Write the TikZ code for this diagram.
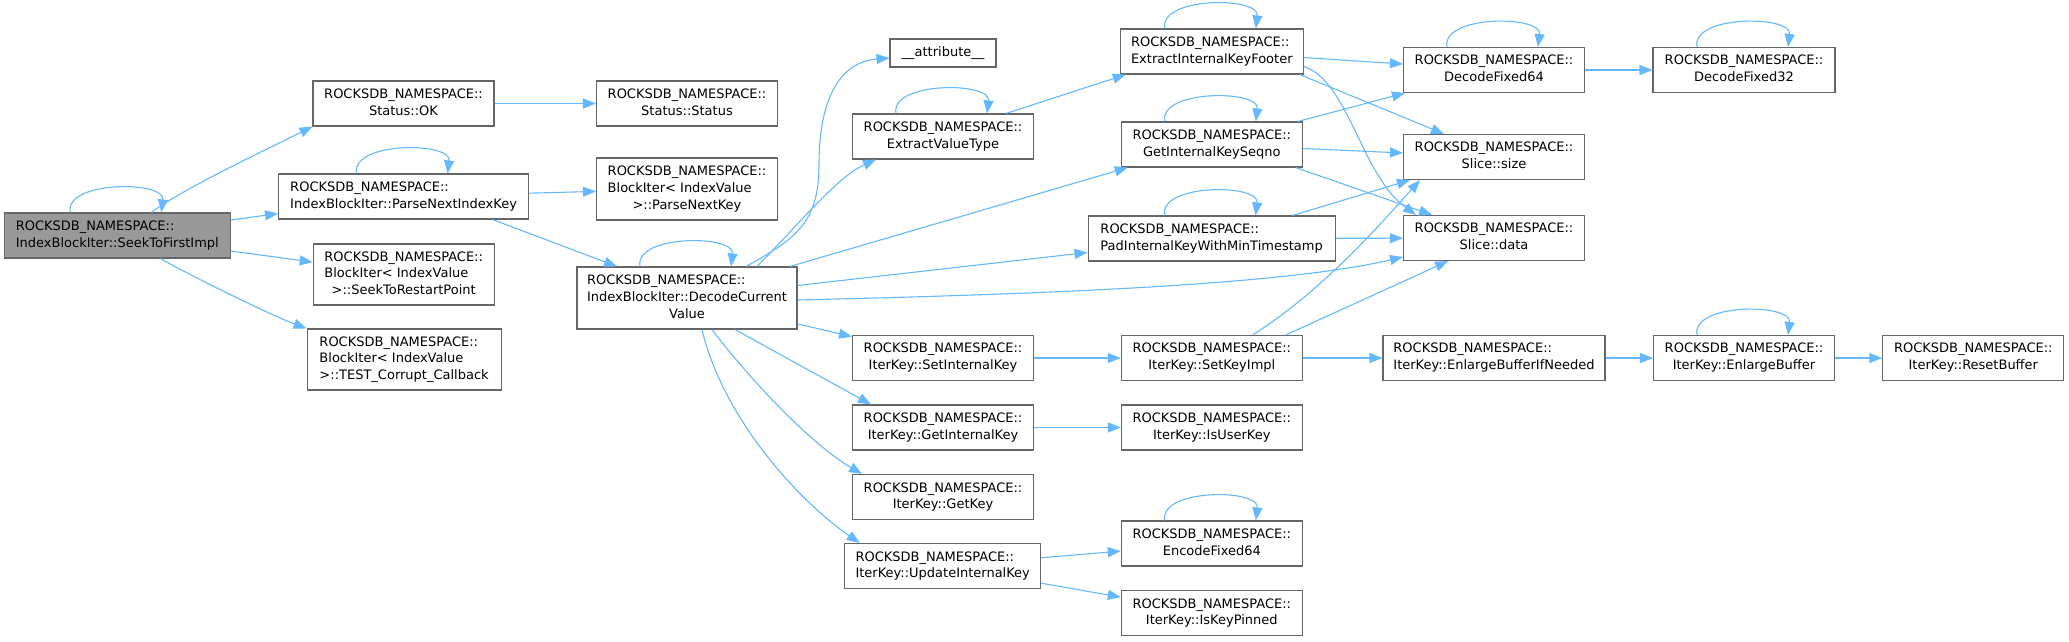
\documentclass[tikz,border=0pt]{standalone}
\usepackage{fontspec}
\setmainfont{DejaVu Sans}
\usetikzlibrary{arrows.meta}
\definecolor{edgeblue}{HTML}{63B8FF}
\definecolor{boxgray}{HTML}{666666}
\definecolor{rootgray}{HTML}{999999}
\newcommand{\ns}{ROCKSDB\_NAMESPACE::}
\newcommand{\fnlabel}[2]{\begin{tabular}{@{}l@{}}#1\\\multicolumn{1}{@{}c@{}}{#2}\end{tabular}}

\begin{document}
\begin{tikzpicture}[x=1pt, y=-1pt, >={Triangle[length=13pt,width=10pt]},
  fn/.style={draw=boxgray, line width=1.1pt, fill=white, inner sep=0pt,
    minimum width=#1, minimum height=45pt, font=\fontsize{13}{16.7}\selectfont},
  fn/.default=181pt,
  edge/.style={->, draw=edgeblue, line width=1.1pt}]
  \useasboundingbox (0,0) rectangle (2069,641);
  % functions
  \node[fn=226pt, fill=rootgray] (seek) at (117.3,235.5) {\fnlabel{\ns}{IndexBlockIter::SeekToFirstImpl}};
  \node[fn] (ok) at (403.5,103.5) {\fnlabel{\ns}{Status::OK}};
  \node[fn=250pt] (parse) at (403.6,196.5) {\fnlabel{\ns}{IndexBlockIter::ParseNextIndexKey}};
  \node[fn, minimum height=61pt] (restart) at (403.7,274.5) {\fnlabel{\ns\\BlockIter< IndexValue}{>::SeekToRestartPoint}};
  \node[fn=194pt, minimum height=61pt] (corrupt) at (404.1,359.5) {\fnlabel{\ns\\BlockIter< IndexValue}{>::TEST\_Corrupt\_Callback}};
  \node[fn] (status) at (687,103.5) {\fnlabel{\ns}{Status::Status}};
  \node[fn, minimum height=62pt] (pnk) at (687,189) {\fnlabel{\ns\\BlockIter< IndexValue}{>::ParseNextKey}};
  \node[fn=220pt, minimum height=62pt] (decode) at (687,298) {\fnlabel{\ns\\IndexBlockIter::DecodeCurrent}{Value}};
  \node[fn=106pt, minimum height=28pt] (attr) at (943,53) {\_\_attribute\_\_};
  \node[fn] (evt) at (943,136.5) {\fnlabel{\ns}{ExtractValueType}};
  \node[fn] (sik) at (943,358) {\fnlabel{\ns}{IterKey::SetInternalKey}};
  \node[fn] (gik) at (943,427.5) {\fnlabel{\ns}{IterKey::GetInternalKey}};
  \node[fn] (gk) at (943,497) {\fnlabel{\ns}{IterKey::GetKey}};
  \node[fn=196pt] (uik) at (942.7,566) {\fnlabel{\ns}{IterKey::UpdateInternalKey}};
  \node[fn=183pt] (eikf) at (1211.8,51.5) {\fnlabel{\ns}{ExtractInternalKeyFooter}};
  \node[fn] (giks) at (1211.8,144.5) {\fnlabel{\ns}{GetInternalKeySeqno}};
  \node[fn=247pt] (pad) at (1211.6,238.5) {\fnlabel{\ns}{PadInternalKeyWithMinTimestamp}};
  \node[fn] (ski) at (1211.8,358) {\fnlabel{\ns}{IterKey::SetKeyImpl}};
  \node[fn] (iuk) at (1211.8,427.5) {\fnlabel{\ns}{IterKey::IsUserKey}};
  \node[fn] (ef64) at (1211.8,543.5) {\fnlabel{\ns}{EncodeFixed64}};
  \node[fn] (ikp) at (1211.8,613) {\fnlabel{\ns}{IterKey::IsKeyPinned}};
  \node[fn] (df64) at (1494,70) {\fnlabel{\ns}{DecodeFixed64}};
  \node[fn] (size) at (1494,157) {\fnlabel{\ns}{Slice::size}};
  \node[fn] (data) at (1494,238) {\fnlabel{\ns}{Slice::data}};
  \node[fn=222pt] (ebin) at (1494,358) {\fnlabel{\ns}{IterKey::EnlargeBufferIfNeeded}};
  \node[fn=182pt] (df32) at (1744,70) {\fnlabel{\ns}{DecodeFixed32}};
  \node[fn] (eb) at (1744,358) {\fnlabel{\ns}{IterKey::EnlargeBuffer}};
  \node[fn] (rb) at (1973.3,358) {\fnlabel{\ns}{IterKey::ResetBuffer}};
  % recursive calls
  \foreach \n in {seek,parse,decode,evt,eikf,giks,pad,df64,df32,eb,ef64}
    \draw[edge] ([xshift=-47pt]\n.north) .. controls +(-6,-32) and +(4,-32) .. ([xshift=44pt]\n.north);
  % calls
  \draw[edge] ([xshift=34pt]seek.north) .. controls +(30,-23) and +(-40,20) .. (ok.south west);
  \draw[edge] (seek) -- (parse);
  \draw[edge] (seek) -- (restart);
  \draw[edge] ([xshift=43pt]seek.south) .. controls +(30,17) and +(-35,-13) .. (corrupt.north west);
  \draw[edge] (ok) -- (status);
  \draw[edge] (parse) -- (pnk);
  \draw[edge] ([xshift=89pt]parse.south) -- ([xshift=-70pt]decode.north);
  \draw[edge] ([xshift=59pt]decode.north) .. controls +(48,-27) and +(0,60) .. +(73,-102)
    .. controls +(0,-65) and +(-50,4) .. ([yshift=-5pt]attr.west);
  \draw[edge] ([xshift=70pt]decode.north) .. controls +(40,-40) and +(-40,18) .. ([xshift=-67pt]evt.south);
  \draw[edge] ([xshift=103pt]decode.north) -- ([xshift=-84pt]giks.south);
  \draw[edge] (decode) -- (pad);
  \draw[edge] ([yshift=-2pt]decode.east) .. controls +(250,-6) and +(-120,28) .. ([yshift=-19pt]data.west);
  \draw[edge] (decode) -- (sik);
  \draw[edge] ([xshift=48pt]decode.south) -- ([xshift=-72pt]gik.north);
  \draw[edge] ([xshift=25pt]decode.south) .. controls +(30,40) and +(-55,-32) .. ([xshift=-81pt]gk.north);
  \draw[edge] ([xshift=15pt]decode.south) .. controls +(20,85) and +(-65,-45) .. ([xshift=-83pt]uik.north);
  \draw[edge] ([xshift=63pt]evt.north) -- ([xshift=-86pt]eikf.south);
  \draw[edge] (eikf) -- (df64);
  \draw[edge] ([xshift=88pt]eikf.south) -- ([xshift=-50pt]size.north);
  \draw[edge] ([yshift=-15pt]eikf.east) .. controls +(45,15) and +(-55,-40) .. ([xshift=-78pt]data.north);
  \draw[edge] ([xshift=86pt]giks.north) -- ([xshift=2pt]df64.south west);
  \draw[edge] (giks) -- (size);
  \draw[edge] ([xshift=84pt]giks.south) -- ([xshift=-62pt]data.north);
  \draw[edge] ([xshift=81pt]pad.north) -- ([xshift=-84pt]size.south);
  \draw[edge] (pad) -- (data);
  \draw[edge] (df64) -- (df32);
  \draw[edge] (sik) -- (ski);
  \draw[edge] ([xshift=41pt]ski.north) .. controls +(70,-45) and +(-45,50) .. ([xshift=-74pt]size.south);
  \draw[edge] ([xshift=74pt]ski.north) -- ([xshift=-46pt]data.south);
  \draw[edge] (ski) -- (ebin);
  \draw[edge] (gik) -- (iuk);
  \draw[edge] (ebin) -- (eb);
  \draw[edge] (eb) -- (rb);
  \draw[edge] (uik) -- (ef64);
  \draw[edge] (uik) -- (ikp);
\end{tikzpicture}
\end{document}
